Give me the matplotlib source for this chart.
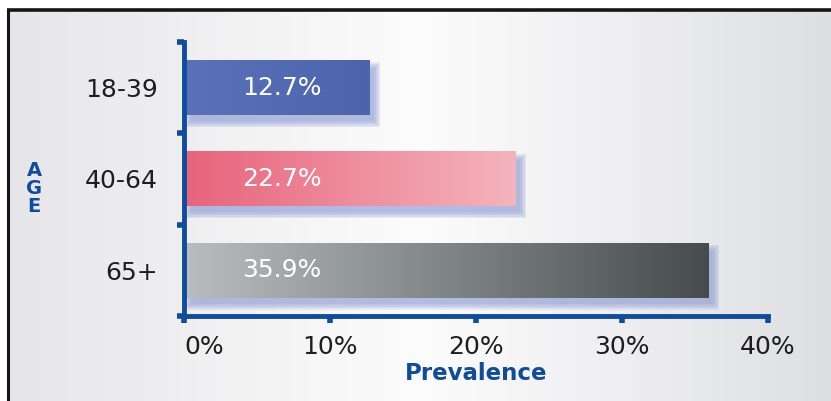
import matplotlib
matplotlib.use("Agg")
import matplotlib.pyplot as plt
import numpy as np
from matplotlib.colors import LinearSegmentedColormap, to_rgb
from matplotlib.patches import Rectangle
import matplotlib.transforms as mtransforms

plt.rcParams['font.family'] = ['DejaVu Sans']

# data
groups = ['18-39', '40-64', '65+']
prevalence = [12.7, 22.7, 35.9]
bar_labels = ['12.7%', '22.7%', '35.9%']
xticks = [0, 10, 20, 30, 40]
xtick_labels = ['0%', '10%', '20%', '30%', '40%']

# left -> right colours of each bar
bar_grad = [('#5a72b9', '#4b64ad'),
            ('#e8637c', '#f4b4bd'),
            ('#b9bdbf', '#464c4e')]
axis_blue = '#0f4c9e'

W, H = 831, 401
fig = plt.figure(figsize=(W / 100, H / 100), dpi=100)
fig.patch.set_facecolor('white')

# background panel with the soft grey-white-grey gradient
bg = fig.add_axes([0, 0, 1, 1], zorder=0)
bg.set_xlim(0, W)
bg.set_ylim(H, 0)
bg.axis('off')
bg_cmap = LinearSegmentedColormap.from_list(
    'bg', [(0, '#e6e6e9'), (0.3, '#f3f3f4'), (0.5, '#fcfcfc'),
           (0.75, '#eeeef0'), (1, '#dedfe1')])
bg.imshow(np.linspace(0, 1, 256)[None, :], cmap=bg_cmap, aspect='auto',
          extent=[8, W, H, 10])
bg.plot([7, W], [9.5, 9.5], color='#151515', lw=2.6, solid_capstyle='butt')
bg.plot([7.5, 7.5], [9, H], color='#151515', lw=2.2, solid_capstyle='butt')

# AGE stacked letters
for i, ch in enumerate('AGE'):
    bg.text(34, 171 + i * 17.5, ch, color=axis_blue, fontsize=14,
            fontweight='bold', ha='center', va='center')

ax = fig.add_axes([184 / W, (H - 316) / H, (768 - 184) / W, (316 - 42) / H],
                  zorder=1)
ax.patch.set_alpha(0)
ax.set_xlim(0, 40)
ax.set_ylim(-0.5, 2.5)

dx = 40 / 584  # data units per pixel
dy = 3 / 274
sh = mtransforms.offset_copy(ax.transData, fig=fig, x=6, y=-7, units='dots')

ypos = [2, 1, 0]
bh = 0.6
for y, v, lab, (c0, c1) in zip(ypos, prevalence, bar_labels, bar_grad):
    # soft lavender shadow, shifted right/down
    for e in [5, 3.5, 2, 0.5, -1]:
        ax.add_patch(Rectangle((0 - e * dx, y - bh / 2 - e * dy),
                               v + 2 * e * dx, bh + 2 * e * dy,
                               transform=sh, fc='#8594d2', ec='none',
                               alpha=0.17, zorder=1))
    cmap = LinearSegmentedColormap.from_list('b', [to_rgb(c0), to_rgb(c1)])
    ax.imshow(np.linspace(0, 1, 256)[None, :], cmap=cmap, aspect='auto',
              extent=[0, v, y - bh / 2, y + bh / 2], zorder=2,
              interpolation='bilinear')
    ax.text(4, y, lab, color='white', fontsize=18, ha='left', va='center',
            zorder=3)

ax.set_xlim(0, 40)
ax.set_ylim(-0.5, 2.5)

for s in ['top', 'right']:
    ax.spines[s].set_visible(False)
for s in ['left', 'bottom']:
    ax.spines[s].set_color(axis_blue)
    ax.spines[s].set_linewidth(3.5)
    ax.spines[s].set_capstyle('projecting')

ax.set_xticks(xticks)
ax.set_xticklabels(xtick_labels, fontsize=18, color='#1e1e1e')
ax.get_xticklabels()[0].set_horizontalalignment('left')
ax.set_yticks([-0.5, 0.5, 1.5, 2.5])
ax.set_yticklabels([])
ax.set_yticks(ypos, minor=True)
ax.set_yticklabels(groups, minor=True, fontsize=18, color='#1e1e1e')
ax.tick_params(axis='x', length=5, width=4, color=axis_blue, pad=9)
ax.tick_params(axis='y', which='major', length=5, width=4, color=axis_blue)
ax.tick_params(axis='y', which='minor', length=0, pad=19)

ax.set_xlabel('Prevalence', fontsize=16.5, fontweight='bold', color=axis_blue,
              labelpad=2)

fig.savefig('out.png', dpi=100)
